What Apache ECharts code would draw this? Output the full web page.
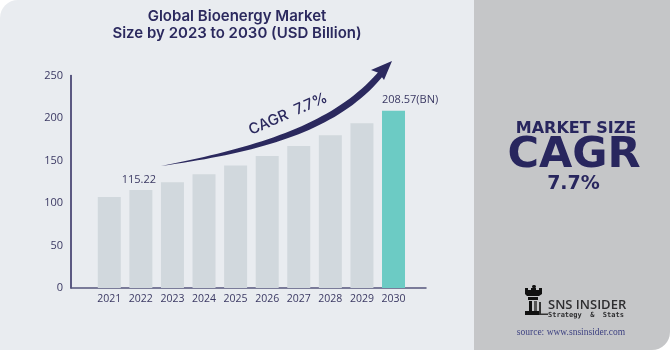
<!DOCTYPE html>
<html>
<head>
<meta charset="utf-8">
<title>Global Bioenergy Market</title>
<script src="https://cdn.jsdelivr.net/npm/echarts@6/dist/echarts.min.js"></script>
<style>
  html, body { margin: 0; padding: 0; background: #ffffff; }
  #main { width: 670px; height: 350px; }
</style>
</head>
<body>
<div id="main"></div>
<script>
// data
var years = ['2021', '2022', '2023', '2024', '2025', '2026', '2027', '2028', '2029', '2030'];
var marketSize = [107, 115.22, 124.3, 133.8, 144.2, 155.2, 167.2, 179.8, 193.8, 208.57];
var valueLabels = ['', '115.22', '', '', '', '', '', '', '', '208.57(BN)'];
var yTicks = [0, 50, 100, 150, 200, 250];

var navy = '#2b295e';
var textCol = '#3b3963';

var myChart = echarts.init(document.getElementById('main'));

// bar items, last one highlighted
var barData = marketSize.map(function (v, i) {
  var last = i === marketSize.length - 1;
  return {
    value: v,
    itemStyle: { color: last ? '#6ccbc4' : '#d1d8dd' },
    label: {
      show: valueLabels[i] !== '',
      formatter: valueLabels[i],
      align: last ? 'left' : 'center',
      offset: last ? [-11.5, 0] : [-2, 0]
    }
  };
});

// tapered swoosh for the CAGR arrow (sampled cubic curves)
function cubic(p, t) {
  var u = 1 - t;
  return [
    u * u * u * p[0][0] + 3 * u * u * t * p[1][0] + 3 * u * t * t * p[2][0] + t * t * t * p[3][0],
    u * u * u * p[0][1] + 3 * u * u * t * p[1][1] + 3 * u * t * t * p[2][1] + t * t * t * p[3][1]
  ];
}
var upper = [[161, 166], [260, 146.5], [335, 123.5], [380, 70]];
var lower = [[161, 166], [262, 152], [338, 131], [383.5, 75.5]];
var swoosh = [];
for (var i = 0; i <= 40; i++) swoosh.push(cubic(upper, i / 40));
for (var j = 40; j >= 0; j--) swoosh.push(cubic(lower, j / 40));

var option = {
  animation: false,
  backgroundColor: 'transparent',
  title: {
    text: 'Global Bioenergy Market\nSize by 2023 to 2030 (USD Billion)',
    left: 232,
    top: 3,
    textAlign: 'center',
    textStyle: {
      fontFamily: 'Inter',
      fontWeight: 600,
      fontSize: 15,
      lineHeight: 17,
      color: navy
    }
  },
  grid: [
    { left: 71, right: 244, top: 75.5, bottom: 62 },
    { left: 93.5, right: 260.7, top: 75.5, bottom: 62 }
  ],
  xAxis: [
    {
      gridIndex: 0, type: 'value', min: 0, max: 1,
      axisLine: { show: true, lineStyle: { color: '#56557c', width: 1.5 } },
      axisTick: { show: false }, axisLabel: { show: false }, splitLine: { show: false }
    },
    {
      gridIndex: 1, type: 'category', data: years,
      axisLine: { show: false }, axisTick: { show: false },
      axisLabel: { interval: 0, color: textCol, fontSize: 10.5, fontFamily: 'Open Sans', margin: 6 }
    }
  ],
  yAxis: [
    {
      gridIndex: 0, type: 'value', min: yTicks[0], max: yTicks[yTicks.length - 1], interval: 50,
      axisLine: { show: true, lineStyle: { color: navy, width: 1.5 } },
      axisTick: { show: false }, splitLine: { show: false },
      axisLabel: { color: textCol, fontSize: 11, fontFamily: 'Open Sans', margin: 8 }
    },
    {
      gridIndex: 1, type: 'value', min: 0, max: 250, show: false
    }
  ],
  series: [
    {
      type: 'bar',
      xAxisIndex: 1,
      yAxisIndex: 1,
      barWidth: 23,
      data: barData,
      label: {
        position: 'top',
        distance: 5,
        color: textCol,
        fontSize: 11,
        fontFamily: 'Open Sans'
      }
    }
  ],
  graphic: [
    // panels: rounded rect plus square patches where the corner is square
    { type: 'rect', z: -10, silent: true,
      shape: { x: 0, y: 0, width: 474, height: 350, r: 18 }, style: { fill: '#e9ecf0' } },
    { type: 'rect', z: -10, silent: true,
      shape: { x: 0, y: 30, width: 474, height: 320 }, style: { fill: '#e9ecf0' } },
    { type: 'rect', z: -10, silent: true,
      shape: { x: 30, y: 0, width: 444, height: 30 }, style: { fill: '#e9ecf0' } },
    { type: 'rect', z: -10, silent: true,
      shape: { x: 474, y: 0, width: 196, height: 350, r: 18 }, style: { fill: '#c5c6c8' } },
    { type: 'rect', z: -10, silent: true,
      shape: { x: 474, y: 0, width: 196, height: 320 }, style: { fill: '#c5c6c8' } },
    { type: 'rect', z: -10, silent: true,
      shape: { x: 474, y: 300, width: 166, height: 50 }, style: { fill: '#c5c6c8' } },
    // growth arrow
    { type: 'polygon', z: 5, silent: true,
      shape: { points: swoosh },
      style: { fill: navy } },
    { type: 'polygon', z: 5, silent: true,
      shape: { points: [[392, 61], [371, 70], [379, 73], [384, 80]] },
      style: { fill: navy } },
    { type: 'text', z: 6, silent: true,
      x: 288, y: 114, rotation: 23.5 * Math.PI / 180,
      style: { text: 'CAGR  7.7%', fontFamily: 'Inter', fontWeight: 500, fontSize: 15,
        fill: navy, align: 'center', verticalAlign: 'middle' } },
    // right panel
    { type: 'text', silent: true, x: 576, y: 128.5,
      style: { text: 'MARKET SIZE', fontFamily: 'DejaVu Sans', fontWeight: 'bold', fontSize: 16,
        fill: '#28265e', align: 'center', verticalAlign: 'middle' } },
    { type: 'text', silent: true, x: 574, y: 155.5,
      style: { text: 'CAGR', fontFamily: 'DejaVu Sans', fontWeight: 'bold', fontSize: 43,
        fill: '#28265e', align: 'center', verticalAlign: 'middle' } },
    { type: 'text', silent: true, x: 573.5, y: 184,
      style: { text: '7.7%', fontFamily: 'DejaVu Sans', fontWeight: 'bold', fontSize: 19,
        fill: '#28265e', align: 'center', verticalAlign: 'middle' } },
    // logo (rook)
    { type: 'rect', silent: true, shape: { x: 532, y: 285, width: 4, height: 3, r: 1.5 }, style: { fill: '#111' } },
    { type: 'polygon', silent: true,
      shape: { points: [[525, 288], [528, 288], [528, 290], [531, 290], [531, 288], [536, 288], [536, 290], [539, 290], [539, 288], [542, 288], [542, 294], [539, 296], [527, 296], [525, 294]] },
      style: { fill: '#111' } },
    { type: 'rect', silent: true, shape: { x: 528, y: 297, width: 10, height: 3 }, style: { fill: '#111' } },
    { type: 'rect', silent: true, shape: { x: 529, y: 301, width: 3, height: 10 }, style: { fill: '#111' } },
    { type: 'rect', silent: true, shape: { x: 534, y: 301, width: 3, height: 10 }, style: { fill: '#555' } },
    { type: 'rect', silent: true, shape: { x: 525, y: 311, width: 16, height: 4 }, style: { fill: '#111' } },
    { type: 'rect', silent: true, shape: { x: 539, y: 302, width: 2, height: 13 }, style: { fill: '#333' } },
    { type: 'rect', silent: true, shape: { x: 539, y: 313.5, width: 9, height: 1.5 }, style: { fill: '#333' } },
    { type: 'text', silent: true, x: 548, y: 305,
      style: { text: 'SNS INSIDER', fontFamily: 'Open Sans', fontWeight: 600, fontSize: 13,
        fill: '#2e2e30', align: 'left', verticalAlign: 'middle' } },
    { type: 'text', silent: true, x: 548, y: 315,
      style: { text: 'Strategy  &  Stats', fontFamily: 'DejaVu Sans Mono', fontWeight: 'bold', fontSize: 7,
        fill: '#2e2e30', align: 'left', verticalAlign: 'middle' } },
    { type: 'text', silent: true, x: 571, y: 332,
      style: { text: 'source: www.snsinsider.com', fontFamily: 'Liberation Serif', fontSize: 9.5,
        fill: '#3b3f80', align: 'center', verticalAlign: 'middle' } }
  ]
};

myChart.setOption(option);
</script>
</body>
</html>
